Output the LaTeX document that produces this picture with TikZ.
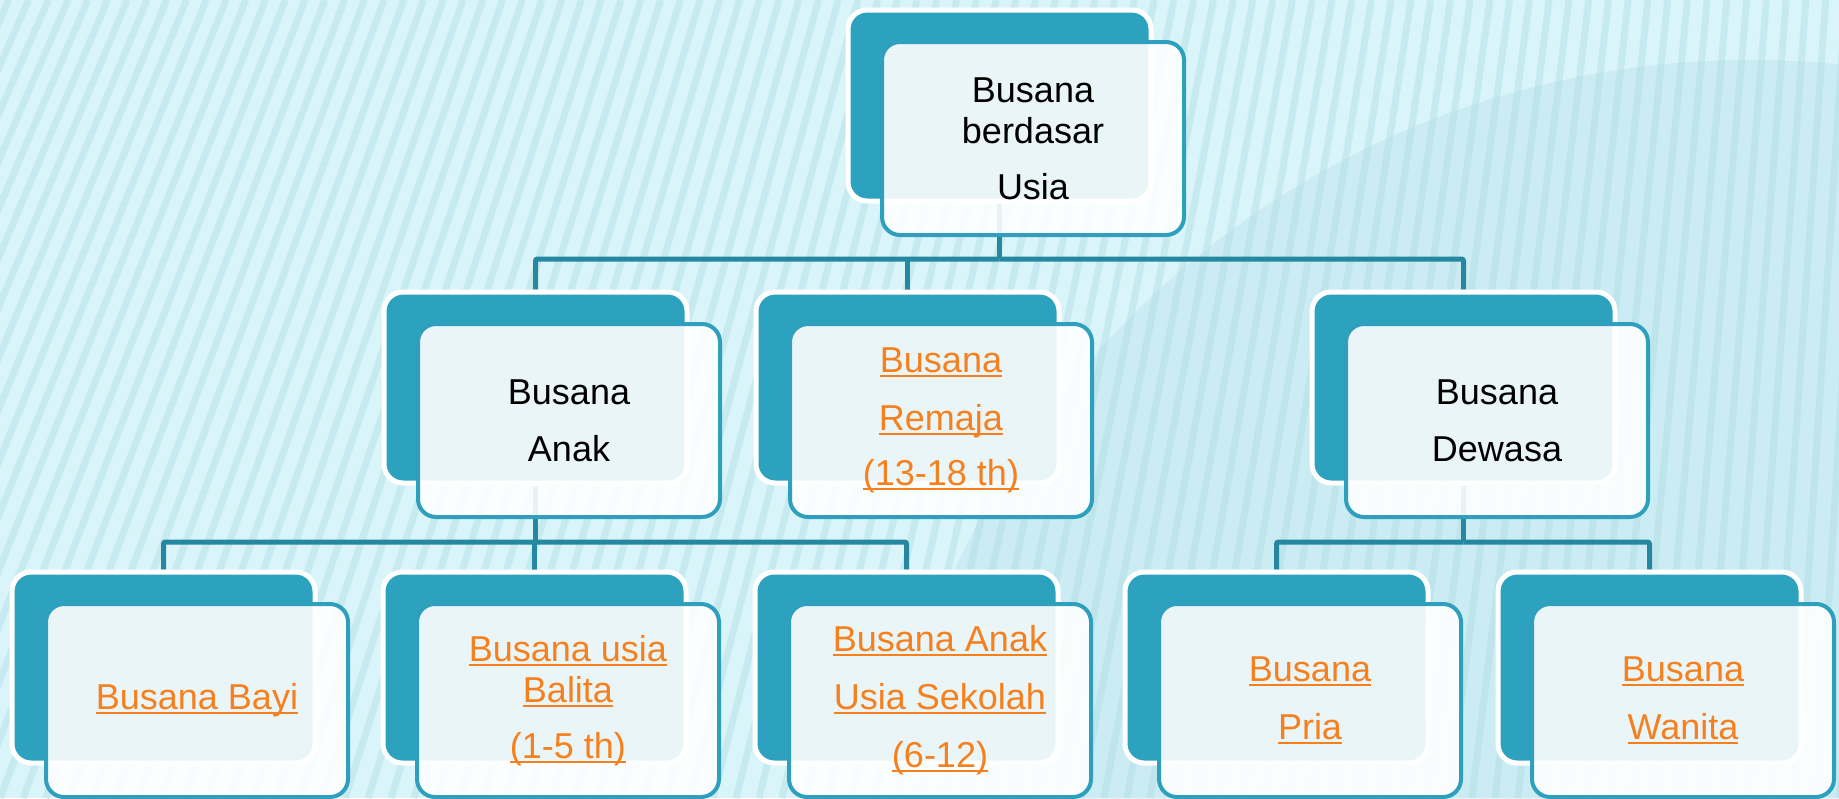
\documentclass[tikz,border=0pt]{standalone}
\usepackage{fontspec}
\setmainfont{Liberation Sans}
\definecolor{bgbase}{RGB}{218,245,250}
\definecolor{bgstripe}{RGB}{178,221,230}
\definecolor{bgdark}{RGB}{150,205,215}
\definecolor{tealfill}{RGB}{45,162,191}
\definecolor{tealedge}{RGB}{46,160,190}
\definecolor{connc}{RGB}{37,135,160}
\definecolor{linkc}{RGB}{247,128,30}
\pgfdeclarelayer{bgpic}
\pgfdeclarelayer{bgconn}
\pgfsetlayers{bgpic,bgconn,main}
\newcommand\lk[1]{\setbox0\hbox{\color{linkc}#1}\rlap{\color{linkc}\rule[-4.5pt]{\wd0}{2.2pt}}\box0}
\tikzset{
  backb/.style={draw=white, line width=5pt, fill=tealfill, rounded corners=19pt,
    minimum width=303pt, minimum height=191pt, anchor=north west, inner sep=0pt},
  frontb/.style={draw=tealedge, line width=4pt, fill=white, fill opacity=0.9,
    draw opacity=1, text opacity=1, rounded corners=18pt,
    minimum width=302pt, minimum height=193pt, anchor=north west, inner sep=0pt,
    align=center, font=\fontsize{36}{41}\selectfont},
  conn/.style={draw=connc, line width=5pt, rounded corners=2pt},
  stripe/.style={draw=bgstripe, line width=7pt, opacity=0.45}
}
\newcommand\backbox[3]{\node[backb] (#1) at (#2+2.5,#3+2.5) {};}
\newcommand\frontbox[4]{\node[frontb] (#1) at (#2+37,#3+35) {#4};}
\begin{document}
\begin{tikzpicture}[x=1pt,y=-1pt]
\useasboundingbox (0,0) rectangle (1839,798);
% back boxes
\backbox{topb}{843}{5}
\backbox{anakb}{379}{287}
\backbox{remajab}{751}{287}
\backbox{dewasab}{1307}{287}
\backbox{bayib}{7}{567}
\backbox{balitab}{378}{567}
\backbox{sekolahb}{750}{567}
\backbox{priab}{1120}{567}
\backbox{wanitab}{1493}{567}
% front boxes
\frontbox{top}{843}{5}{Busana\\berdasar\\[15pt]Usia}
\frontbox{anak}{379}{287}{Busana\\[16pt]Anak}
\frontbox{remaja}{751}{287}{\lk{Busana}\\[17pt]\lk{Remaja}\\[14pt]\lk{(13-18 th)}}
\frontbox{dewasa}{1307}{287}{Busana\\[16pt]Dewasa}
\frontbox{bayi}{7}{567}{\lk{Busana Bayi}}
\frontbox{balita}{378}{567}{\lk{Busana usia}\\\lk{Balita}\\[15pt]\lk{(1-5 th)}}
\frontbox{sekolah}{750}{567}{\lk{Busana Anak}\\[17pt]\lk{Usia Sekolah}\\[17pt]\lk{(6-12)}}
\frontbox{pria}{1120}{567}{\lk{Busana}\\[17pt]\lk{Pria}}
\frontbox{wanita}{1493}{567}{\lk{Busana}\\[17pt]\lk{Wanita}}
% connectors
\begin{pgfonlayer}{bgconn}
\coordinate (bus1) at (topb.south |- 0,259);
\coordinate (bus2) at (anakb.south |- 0,542);
\coordinate (bus3) at (dewasab.south |- 0,542);
\draw[conn] (topb.south) -- (bus1);
\draw[conn] (anakb.north) |- (bus1);
\draw[conn] (dewasab.north) |- (bus1);
\draw[conn] (remajab.north) -- (remajab.north |- bus1);
\draw[conn] (anakb.south) -- (bus2);
\draw[conn] (bayib.north) |- (bus2);
\draw[conn] (sekolahb.north) |- (bus2);
\draw[conn] (balitab.north) -- (balitab.north |- bus2);
\draw[conn] (dewasab.south) -- (bus3);
\draw[conn] (priab.north) |- (bus3);
\draw[conn] (wanitab.north) |- (bus3);
\end{pgfonlayer}
% background
\begin{pgfonlayer}{bgpic}
\begin{scope}
\clip (0,0) rectangle (1839,798);
\fill[bgbase] (0,0) rectangle (1839,798);
\fill[bgdark, opacity=0.22] (1750,935) circle (875);
\foreach \i in {-16,...,82} {
  \pgfmathsetmacro\xb{\i*23}
  \pgfmathsetmacro\sl{max(45, 45+260*(1-\xb/1839))}
  \draw[stripe] (\xb,798) -- (\xb+\sl,0);
}
\end{scope}
\end{pgfonlayer}
\end{tikzpicture}
\end{document}
